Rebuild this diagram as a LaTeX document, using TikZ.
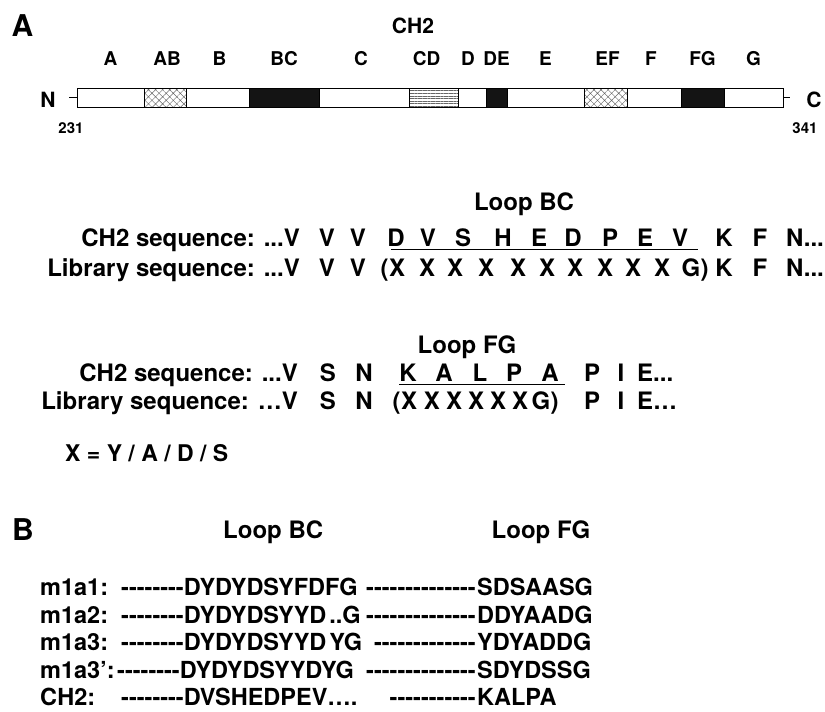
\documentclass[tikz,border=0pt]{standalone}
\usepackage{fontspec}
\setmainfont{TeX Gyre Heros}
\usetikzlibrary{positioning, patterns.meta}

% hyphens kept apart, so that -- does not turn into a dash
\newcommand\dsh[1]{\foreach\k in {1,...,#1}{-\kern0pt}}

\begin{document}
\begin{tikzpicture}[x=1pt, y=-1pt,
  seg/.style={draw, line width=0.8pt, minimum height=19pt, inner sep=0pt, outer sep=0pt},
  blankseg/.style={seg, fill=white},
  darkseg/.style={seg, fill=black!92},
  hatchseg/.style={seg, pattern={Hatch[angle=45, distance=5pt, line width=0.45pt]}, pattern color=black!60},
  stripeseg/.style={seg, pattern={Lines[angle=0, distance=2.6pt, line width=0.45pt]}, pattern color=black!60},
  txt/.style={inner sep=0pt, anchor=base, font=#1\bfseries},
  panel/.style={txt=\fontsize{30}{36}\selectfont},
  ttl/.style={txt=\fontsize{21}{25}\selectfont},
  seglabel/.style={txt=\fontsize{19}{22}\selectfont, anchor=south},
  term/.style={txt=\fontsize{21}{25}\selectfont},
  num/.style={txt=\fontsize{15}{18}\selectfont},
  aa/.style={txt=\fontsize{24}{28}\selectfont},
  pb/.style={txt=\fontsize{23.5}{27}\selectfont},
  uline/.style={line width=1.3pt},
  tick/.style={line width=1pt}
]
\useasboundingbox (0,0) rectangle (825,712);

% ---- panel A: domain bar
\node[panel] (pA) at (22.5,36) {A};
\node[ttl] (ch2) at (413,33) {CH2};

\node[blankseg, minimum width=67pt, anchor=west] (sA) at (77,97.5) {};
\node[hatchseg, minimum width=42pt, right=0pt of sA] (sAB) {};
\node[blankseg, minimum width=63pt, right=0pt of sAB] (sB) {};
\node[darkseg, minimum width=70pt, right=0pt of sB] (sBC) {};
\node[blankseg, minimum width=90pt, right=0pt of sBC] (sC) {};
\node[stripeseg, minimum width=49pt, right=0pt of sC] (sCD) {};
\node[blankseg, minimum width=28pt, right=0pt of sCD] (sD) {};
\node[darkseg, minimum width=21pt, right=0pt of sD] (sDE) {};
\node[blankseg, minimum width=77pt, right=0pt of sDE] (sE) {};
\node[hatchseg, minimum width=43pt, right=0pt of sE] (sEF) {};
\node[blankseg, minimum width=54pt, right=0pt of sEF] (sF) {};
\node[darkseg, minimum width=43pt, right=0pt of sF] (sFG) {};
\node[blankseg, minimum width=59pt, right=0pt of sFG] (sG) {};

\node[seglabel, above=22pt of sA] (lA) {A};
\node[seglabel, above=22pt of sAB, xshift=2pt] (lAB) {AB};
\node[seglabel, above=22pt of sB, xshift=2pt] (lB) {B};
\node[seglabel, above=22pt of sBC] (lBC) {BC};
\node[seglabel, above=22pt of sC, xshift=-3pt] (lC) {C};
\node[seglabel, above=22pt of sCD, xshift=-7pt] (lCD) {CD};
\node[seglabel, above=22pt of sD, xshift=-4pt] (lD) {D};
\node[seglabel, above=22pt of sDE] (lDE) {DE};
\node[seglabel, above=22pt of sE] (lE) {E};
\node[seglabel, above=22pt of sEF, xshift=2pt] (lEF) {EF};
\node[seglabel, above=22pt of sF, xshift=-3pt] (lF) {F};
\node[seglabel, above=22pt of sFG] (lFG) {FG};
\node[seglabel, above=22pt of sG] (lG) {G};

\node[term] (nN) at (48,107) {N};
\node[term] (nC) at (814,107) {C};
\coordinate (tN) at (69,97.5);
\coordinate (tC) at (790,97.5);
\draw[tick] (tN) -- (sA.west);
\draw[tick] (sG.east) -- (tC);
\node[num] (n231) at (71,133) {231};
\node[num] (n341) at (805,133) {341};

% ---- loop BC
\node[aa] (loopBC) at (524,210) {Loop BC};
\node[aa, anchor=base east] (bcCH2) at (300,246) {CH2 sequence: ...V};
\foreach \ltr/\xx [count=\i] in {V/327, V/358, D/396, V/428, S/463, H/503, E/539,
    D/573, P/610, E/645, V/680, K/724, F/760}
  \node[aa] (bcW\i) at (\xx,246) {\ltr};
\node[aa, anchor=base west] (bcWend) at (786,246) {N...};
\draw[uline] ([xshift=4pt, yshift=-3.5pt]bcW3.base west) -- ([xshift=10pt, yshift=-3.5pt]bcW11.base east);

\node[aa, anchor=base east] (bcLib) at (300,276) {Library sequence: ...V};
\foreach \ltr/\xx [count=\i] in {V/327, V/358, X/397, X/427, X/455, X/486, X/518,
    X/547, X/575, X/605, X/633, X/662, G/691, K/724, F/760}
  \node[aa] (bcL\i) at (\xx,276) {\ltr};
\node[aa, anchor=base east] (bcLopen) at (bcL3.base west) {(};
\node[aa, anchor=base west] (bcLclose) at (bcL13.base east) {)};
\node[aa, anchor=base west] (bcLend) at (786,276) {N...};

% ---- loop FG
\node[aa] (loopFG) at (467,353) {Loop FG};
\node[aa, anchor=base east] (fgCH2) at (298,381) {CH2 sequence: ...V};
\foreach \ltr/\xx [count=\i] in {S/328, N/364, K/408, A/444, L/480, P/514, A/550, P/592, I/621}
  \node[aa] (fgW\i) at (\xx,381) {\ltr};
\node[aa, anchor=base west] (fgWend) at (637,381) {E...};
\draw[uline] ([yshift=-3.5pt]fgW3.base west) -- ([xshift=6pt, yshift=-3.5pt]fgW7.base east);

\node[aa, anchor=base east] (fgLib) at (298,409) {Library sequence: …V};
\foreach \ltr/\xx [count=\i] in {S/328, N/364, X/409, X/432, X/454, X/476, X/498, X/520, G/541, P/592, I/621}
  \node[aa] (fgL\i) at (\xx,409) {\ltr};
\node[aa, anchor=base east] (fgLopen) at (fgL3.base west) {(};
\node[aa, anchor=base west] (fgLclose) at (fgL9.base east) {)};
\node[aa, anchor=base west] (fgLend) at (637,409) {E…};

\node[aa, anchor=base west, font=\fontsize{23}{27}\selectfont\bfseries] (xdef) at (65,461) {X = Y / A / D / S};

% ---- panel B: selected clones
\node[panel] (pB) at (23,540) {B};
\node[aa, anchor=base west] (bLoopBC) at (223,538) {Loop BC};
\node[aa] (bLoopFG) at (541,538) {Loop FG};

\node[pb, anchor=base west] (r1) at (40,595) {m1a1:};
\node[pb, anchor=base west] (r1a) at (121,595) {\dsh{8}DYDYDSYFDFG};
\node[pb, anchor=base east] (r1b) at (476,595) {\dsh{14}};
\node[pb, anchor=base west] (r1c) at (477,595) {SDSAASG};

\node[pb, anchor=base west] (r2) at (40,623) {m1a2:};
\node[pb, anchor=base west] (r2a) at (121,623) {\dsh{8}DYDYDSYYD\kern3pt..G};
\node[pb, anchor=base east] (r2b) at (476,623) {\dsh{14}};
\node[pb, anchor=base west] (r2c) at (477,623) {DDYAADG};

\node[pb, anchor=base west] (r3) at (40,650) {m1a3:};
\node[pb, anchor=base west] (r3a) at (121,650) {\dsh{8}DYDYDSYYD\kern3pt YG};
\node[pb, anchor=base east] (r3b) at (476,650) {\dsh{13}};
\node[pb, anchor=base west] (r3c) at (477,650) {YDYADDG};

\node[pb, anchor=base west] (r4) at (40,678) {m1a3’:};
\node[pb, anchor=base west] (r4a) at (117,678) {\dsh{8}DYDYDSYYDYG};
\node[pb, anchor=base east] (r4b) at (476,678) {\dsh{14}};
\node[pb, anchor=base west] (r4c) at (477,678) {SDYDSSG};

\node[pb, anchor=base west] (r5) at (40,705) {CH2:};
\node[pb, anchor=base west] (r5a) at (121,705) {\dsh{8}DVSHEDPEV….};
\node[pb, anchor=base east] (r5b) at (476,705) {\dsh{11}};
\node[pb, anchor=base west] (r5c) at (477,705) {KALPA};
\end{tikzpicture}
\end{document}
